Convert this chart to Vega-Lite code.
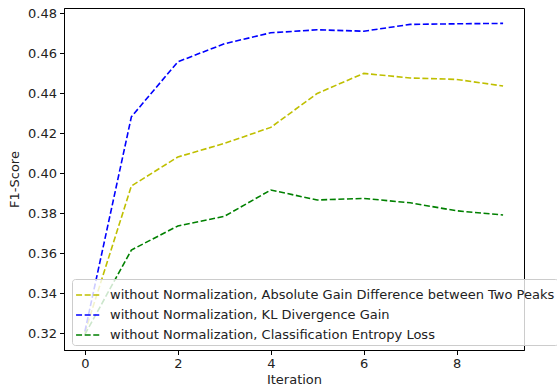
{
  "$schema": "https://vega.github.io/schema/vega-lite/v6.json",
  "width": 460,
  "height": 342,
  "autosize": {"type": "none"},
  "padding": {"left": 64, "top": 8, "right": 33, "bottom": 41},
  "background": "white",
  "config": {
    "font": "DejaVu Sans",
    "view": {"stroke": "black", "strokeWidth": 1},
    "axis": {
      "grid": false,
      "domainColor": "black",
      "tickColor": "black",
      "tickSize": 4.5,
      "labelColor": "#222222",
      "labelFontSize": 13,
      "labelPadding": 3,
      "titleFontSize": 13,
      "titleFontWeight": "normal",
      "titleColor": "#222222"
    }
  },
  "data": {
    "values": [
      {"iteration": 0, "f1": 0.3205, "series": "without Normalization, Absolute Gain Difference between Two Peaks"},
      {"iteration": 1, "f1": 0.3937, "series": "without Normalization, Absolute Gain Difference between Two Peaks"},
      {"iteration": 2, "f1": 0.4082, "series": "without Normalization, Absolute Gain Difference between Two Peaks"},
      {"iteration": 3, "f1": 0.4150, "series": "without Normalization, Absolute Gain Difference between Two Peaks"},
      {"iteration": 4, "f1": 0.4230, "series": "without Normalization, Absolute Gain Difference between Two Peaks"},
      {"iteration": 5, "f1": 0.4400, "series": "without Normalization, Absolute Gain Difference between Two Peaks"},
      {"iteration": 6, "f1": 0.4500, "series": "without Normalization, Absolute Gain Difference between Two Peaks"},
      {"iteration": 7, "f1": 0.4477, "series": "without Normalization, Absolute Gain Difference between Two Peaks"},
      {"iteration": 8, "f1": 0.4470, "series": "without Normalization, Absolute Gain Difference between Two Peaks"},
      {"iteration": 9, "f1": 0.4437, "series": "without Normalization, Absolute Gain Difference between Two Peaks"},
      {"iteration": 0, "f1": 0.3210, "series": "without Normalization, KL Divergence Gain"},
      {"iteration": 1, "f1": 0.4283, "series": "without Normalization, KL Divergence Gain"},
      {"iteration": 2, "f1": 0.4558, "series": "without Normalization, KL Divergence Gain"},
      {"iteration": 3, "f1": 0.4648, "series": "without Normalization, KL Divergence Gain"},
      {"iteration": 4, "f1": 0.4703, "series": "without Normalization, KL Divergence Gain"},
      {"iteration": 5, "f1": 0.4718, "series": "without Normalization, KL Divergence Gain"},
      {"iteration": 6, "f1": 0.4711, "series": "without Normalization, KL Divergence Gain"},
      {"iteration": 7, "f1": 0.4745, "series": "without Normalization, KL Divergence Gain"},
      {"iteration": 8, "f1": 0.4748, "series": "without Normalization, KL Divergence Gain"},
      {"iteration": 9, "f1": 0.4750, "series": "without Normalization, KL Divergence Gain"},
      {"iteration": 0, "f1": 0.3195, "series": "without Normalization, Classification Entropy Loss"},
      {"iteration": 1, "f1": 0.3617, "series": "without Normalization, Classification Entropy Loss"},
      {"iteration": 2, "f1": 0.3737, "series": "without Normalization, Classification Entropy Loss"},
      {"iteration": 3, "f1": 0.3785, "series": "without Normalization, Classification Entropy Loss"},
      {"iteration": 4, "f1": 0.3917, "series": "without Normalization, Classification Entropy Loss"},
      {"iteration": 5, "f1": 0.3867, "series": "without Normalization, Classification Entropy Loss"},
      {"iteration": 6, "f1": 0.3875, "series": "without Normalization, Classification Entropy Loss"},
      {"iteration": 7, "f1": 0.3853, "series": "without Normalization, Classification Entropy Loss"},
      {"iteration": 8, "f1": 0.3813, "series": "without Normalization, Classification Entropy Loss"},
      {"iteration": 9, "f1": 0.3792, "series": "without Normalization, Classification Entropy Loss"}
    ]
  },
  "mark": {"type": "line", "strokeWidth": 1.6, "strokeDash": [6, 2.6]},
  "encoding": {
    "x": {
      "field": "iteration",
      "type": "quantitative",
      "scale": {"domain": [-0.45, 9.45], "nice": false, "zero": false},
      "axis": {"values": [0, 2, 4, 6, 8], "title": "Iteration", "titlePadding": 3}
    },
    "y": {
      "field": "f1",
      "type": "quantitative",
      "scale": {"domain": [0.3117, 0.4827], "nice": false, "zero": false},
      "axis": {"values": [0.32, 0.34, 0.36, 0.38, 0.40, 0.42, 0.44, 0.46, 0.48], "format": ".2f", "title": "F1-Score", "titlePadding": 6}
    },
    "color": {
      "field": "series",
      "type": "nominal",
      "scale": {
        "domain": [
          "without Normalization, Absolute Gain Difference between Two Peaks",
          "without Normalization, KL Divergence Gain",
          "without Normalization, Classification Entropy Loss"
        ],
        "range": ["#bfbf00", "#0000ff", "#008000"]
      },
      "legend": {
        "title": null,
        "orient": "none",
        "legendX": 8,
        "legendY": 271,
        "fillColor": "rgba(255,255,255,0.8)",
        "strokeColor": "#cccccc",
        "cornerRadius": 3,
        "padding": 3,
        "symbolType": "stroke",
        "symbolSize": 570,
        "symbolStrokeWidth": 1.6,
        "symbolDash": [6, 2.6],
        "labelFontSize": 13,
        "labelColor": "#222222",
        "labelOffset": 9,
        "rowPadding": 0,
        "labelLimit": 600
      }
    }
  }
}
